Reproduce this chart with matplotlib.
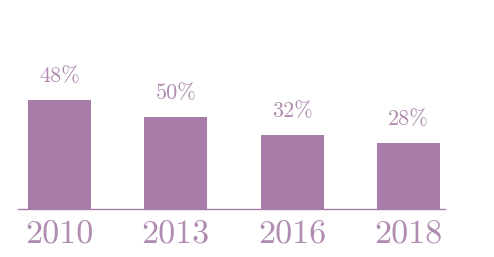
import matplotlib
matplotlib.use("Agg")
import matplotlib.pyplot as plt

years = ["2010", "2013", "2016", "2018"]
bar_heights = [109, 92, 74, 66]
labels = ["48%", "50%", "32%", "28%"]

bar_color = "#a87ca8"
text_color = "#b08cb0"

plt.rcParams["font.family"] = ["cmr10", "DejaVu Serif"]

fig = plt.figure(figsize=(4.94, 2.57), dpi=100)
ax = fig.add_axes([18/494, 48/257, 427/494, 209/257])
x = list(range(len(years)))
bars = ax.bar(x, bar_heights, width=0.54, color=bar_color)
ax.set_xlim(-0.357, 3.314)
ax.set_ylim(0, 209)
for b, lab in zip(bars, labels):
    ax.annotate(lab, (b.get_x() + b.get_width()/2, b.get_height()),
                xytext=(0, 13), textcoords="offset points",
                ha="center", va="baseline", fontsize=16, color=text_color)
ax.set_xticks(x)
ax.set_xticklabels(years, fontsize=24.5, color=text_color)
ax.tick_params(axis="x", length=0, pad=8)
ax.set_yticks([])
for s in ["top", "right", "left"]:
    ax.spines[s].set_visible(False)
ax.spines["bottom"].set_color(bar_color)
ax.spines["bottom"].set_linewidth(1)
fig.savefig("out.png", dpi=100)
